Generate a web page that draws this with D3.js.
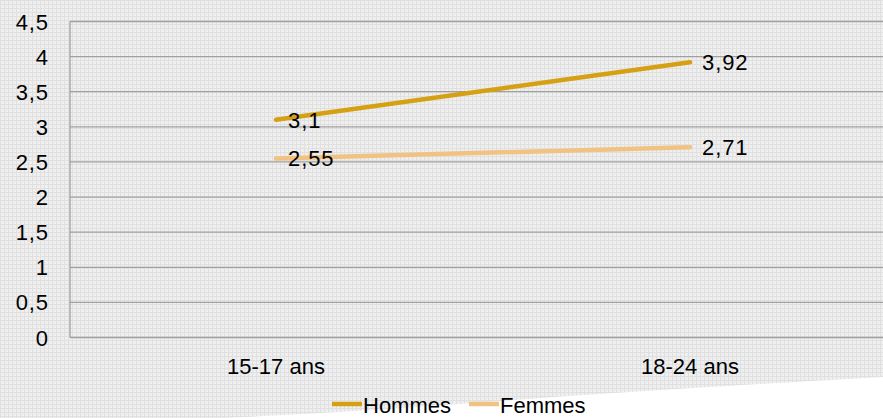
<!DOCTYPE html>
<html lang="fr">
<meta charset="UTF-8">
<script src="https://d3js.org/d3.v7.min.js"></script>
<head>
    <style>
        body { margin: 0; background: #ffffff; }
        svg { display: block; font-family: "Liberation Sans", Arial, sans-serif; }
        .num { letter-spacing: 0.9px; }
    </style>
</head>
<body>
<div id="chart"></div>
<script>
    // data
    const categories = ["15-17 ans", "18-24 ans"];
    const hommes = [3.1, 3.92];
    const femmes = [2.55, 2.71];
    const yTicks = [0, 0.5, 1, 1.5, 2, 2.5, 3, 3.5, 4, 4.5];
    const seriesNames = ["Hommes", "Femmes"];

    const width = 883, height = 418;
    const colors = ["#d6a014", "#f2c283"];
    const fmt = v => String(v).replace(".", ",");

    const svg = d3.select("#chart").append("svg")
        .attr("width", width)
        .attr("height", height);

    // textured grey background
    const defs = svg.append("defs");
    const pat = defs.append("pattern")
        .attr("id", "tex")
        .attr("width", 4).attr("height", 4)
        .attr("patternUnits", "userSpaceOnUse");
    pat.append("rect").attr("width", 4).attr("height", 4).attr("fill", "#efefef");
    pat.append("rect").attr("width", 4).attr("height", 1).attr("fill", "#e0e0e0");
    pat.append("rect").attr("width", 1).attr("height", 4).attr("fill", "#e0e0e0");

    svg.append("rect").attr("width", width).attr("height", height).attr("fill", "url(#tex)");

    // white torn corner at the bottom
    svg.append("path")
        .attr("d", d3.line().curve(d3.curveBasis)([[200, 419], [223, 418], [380, 410.5], [600, 393], [883, 377], [884, 377]])
            + "L884,419Z")
        .attr("fill", "#ffffff");

    const x = d3.scalePoint()
        .domain(categories)
        .range([69, 897])
        .padding(0.5);

    const y = d3.scaleLinear()
        .domain([0, 4.5])
        .range([337.5, 21.5]);

    // gridlines
    svg.append("g")
        .selectAll("line")
        .data(yTicks)
        .join("line")
        .attr("x1", 70).attr("x2", width)
        .attr("y1", d => y(d)).attr("y2", d => y(d))
        .attr("stroke", "#a0a0a0")
        .attr("stroke-width", 1.3);

    svg.append("line")
        .attr("x1", 70).attr("x2", 70)
        .attr("y1", y(4.5)).attr("y2", y(0))
        .attr("stroke", "#a0a0a0")
        .attr("stroke-width", 1.3);

    // y tick labels
    svg.append("g")
        .selectAll("text")
        .data(yTicks)
        .join("text")
        .attr("class", "num")
        .attr("x", 49)
        .attr("y", d => y(d) + 8)
        .attr("text-anchor", "end")
        .style("font-size", "22px")
        .attr("fill", "#000")
        .text(d => fmt(d));

    // x labels
    svg.append("g")
        .selectAll("text")
        .data(categories)
        .join("text")
        .attr("x", d => x(d))
        .attr("y", 374)
        .attr("text-anchor", "middle")
        .style("font-size", "22px")
        .attr("fill", "#000")
        .text(d => d);

    const series = [hommes, femmes];
    const line = d3.line()
        .x((d, i) => x(categories[i]))
        .y(d => y(d));

    series.slice().reverse().forEach((vals, k) => {
        const i = series.length - 1 - k;
        svg.append("path")
            .datum(vals)
            .attr("d", line)
            .attr("fill", "none")
            .attr("stroke", colors[i])
            .attr("stroke-width", 4.5)
            .attr("stroke-linecap", "round");
    });

    series.forEach(vals => {
        svg.append("g")
            .selectAll("text")
            .data(vals)
            .join("text")
            .attr("class", "num")
            .attr("x", (d, i) => x(categories[i]) + 12)
            .attr("y", d => y(d) + 8)
            .style("font-size", "22px")
            .attr("fill", "#000")
            .text(d => fmt(d));
    });

    // legend
    const legendX = [332, 469];
    seriesNames.forEach((name, i) => {
        svg.append("line")
            .attr("x1", legendX[i]).attr("x2", legendX[i] + 30)
            .attr("y1", 404).attr("y2", 404)
            .attr("stroke", colors[i])
            .attr("stroke-width", 4.5);
        svg.append("text")
            .attr("x", legendX[i] + 31)
            .attr("y", 413)
            .style("font-size", "22px")
            .attr("fill", "#000")
            .text(name);
    });
</script>
</body>
</html>
